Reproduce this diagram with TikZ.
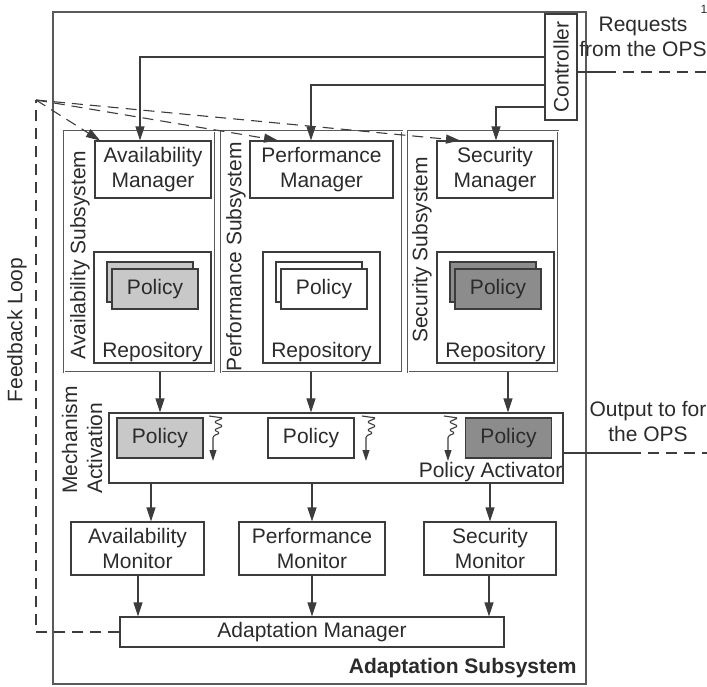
\documentclass[tikz,border=0pt]{standalone}
\usepackage{fontspec}
\setmainfont{Liberation Sans}
\usepackage{tikz}
\usetikzlibrary{arrows.meta}
\definecolor{txt}{HTML}{2B2B2B}
\definecolor{ln}{HTML}{3C3C3C}
\definecolor{lightpol}{HTML}{C8C8C8}
\definecolor{darkpol}{HTML}{8C8C8C}
\tikzset{box/.style={rectangle, draw=ln, line width=1.1pt, inner sep=2pt, align=center}}
\tikzset{pol/.style={box, minimum width=86, minimum height=40}}
\tikzset{subbox/.style={rectangle, draw=ln!85, double=white, double distance=1pt, line width=0.9pt}}
\tikzset{arr/.style={draw=ln, line width=1.1pt, -{Triangle[length=14pt,width=9pt]}}}
\tikzset{smallarr/.style={draw=ln, line width=1.1pt, rounded corners=1.5pt, -{Triangle[length=11pt,width=7pt]}}}
\tikzset{fbline/.style={draw=ln, line width=1.1pt, dash pattern=on 11pt off 7pt}}
\tikzset{fbarr/.style={arr, dash pattern=on 11pt off 7pt}}

\begin{document}
\begin{tikzpicture}[x=1pt,y=-1pt,every node/.style={font=\fontsize{21}{25}\selectfont, text=txt}]
  \useasboundingbox (0,0) rectangle (707,686);
  \clip (0,0) rectangle (707,686);

  \node[box, line width=1.6pt, draw=ln!85, minimum width=533, minimum height=672] (adapt) at (319.5,348) {};
  \node[font=\bfseries\fontsize{21}{25}\selectfont, anchor=south east] (adaptlab) at (580,681) {Adaptation Subsystem};

  \node[box, minimum width=32, minimum height=106, inner sep=0pt] (ctrl) at (561,67) {\rotatebox{90}{Controller}};

  \foreach \n/\x/\w/\lx/\ly/\lab in {
    av/139.5/151/80/255/Availability Subsystem,
    pf/311.5/181/236/257/Performance Subsystem,
    sc/483/150/422/250/Security Subsystem%
  } {
    \node[subbox, minimum width=\w, minimum height=241] (\n-sub) at (\x,251.5) {};
    \node[rotate=90] (\n-sublab) at (\lx,\ly) {\lab};
  }

  \foreach \n/\x/\w/\lab in {
    av/153/116/{Availability\\Manager},
    pf/321.5/143/{Performance\\Manager},
    sc/495/116/{Security\\Manager}%
  } {
    \node[box, minimum width=\w, minimum height=57] (\n-man) at (\x,169.5) {\lab};
  }

  \foreach \n/\x/\c in {
    av/152.5/lightpol,
    pf/321.5/white,
    sc/495.5/darkpol%
  } {
    \node[box, minimum width=117, minimum height=111] (\n-rep) at (\x,307.5) {};
    \node[anchor=south, inner sep=1pt] (\n-replab) at (\n-rep.south) {Repository};
    \node[pol, fill=\c] (\n-back) at (\x-2.5,282) {};
    \node[pol, fill=\c] (\n-pol) at (\x+2.5,289) {Policy};
  }

  \node[box, minimum width=454, minimum height=70] (mech) at (336,448) {};
  \node[rotate=90, align=left] (mechlab) at (82,440) {Mechanism\\Activation};
  \node[pol, fill=lightpol] (av-act) at (160,438) {Policy};
  \node[pol, fill=white] (pf-act) at (311,438) {Policy};
  \node[pol, fill=darkpol] (sc-act) at (508.5,438) {Policy};
  \node[anchor=south east, inner sep=1pt] (actlab) at (mech.south east) {Policy Activator};
  \foreach \x in {213,366,448} {
    \draw[smallarr] (\x-4,416) -- (\x+10,418) -- (\x+1,422) -- (\x+10,426) -- (\x+1,430) -- (\x+7,433) -- (\x,436) -- (\x,461);
  }

  \foreach \n/\x/\w/\lab in {
    av/137.5/133/{Availability\\Monitor},
    pf/312/146/{Performance\\Monitor},
    sc/490/132/{Security\\Monitor}%
  } {
    \node[box, minimum width=\w, minimum height=53] (\n-mon) at (\x,548.5) {\lab};
  }
  \node[box, minimum width=384, minimum height=30] (am) at (312,632) {Adaptation Manager};

  \foreach \y/\m/\x in {57/av/140, 85/pf/311, 107/sc/496} {
    \draw[arr] (ctrl.west |- 0,\y) -| (\m-man.north -| \x,0);
  }
  \foreach \n/\x in {av/160, pf/311, sc/508} {
    \draw[arr] (\n-sub.south -| \x,0) -- (mech.north -| \x,0);
  }
  \foreach \n/\x in {av/151, pf/312, sc/490} {
    \draw[arr] (mech.south -| \x,0) -- (\n-mon.north -| \x,0);
  }
  \foreach \n/\x in {av/138, pf/312, sc/489} {
    \draw[arr] (\n-mon.south -| \x,0) -- (am.north -| \x,0);
  }

  \coordinate (fb) at (36,100);
  \draw[fbline] (am.west) -| (fb);
  \foreach \n/\x in {av/100, pf/278, sc/460} {
    \draw[fbarr] (fb) -- (\n-man.north -| \x,0);
  }
  \node[rotate=90] (fblab) at (17,330) {Feedback Loop};

  \coordinate (reqa) at (605,72);
  \coordinate (reqb) at (707,72);
  \draw[draw=ln, line width=1.1pt] (ctrl.east |- reqa) -- (reqa);
  \draw[fbline] (reqa) -- (reqb);
  \node[align=center] (reqlab) at (643,37) {Requests\\from the OPS};
  \node[font=\fontsize{12}{14}\selectfont] (note) at (704,9) {1};

  \coordinate (outa) at (630,453);
  \coordinate (outb) at (707,453);
  \draw[draw=ln, line width=1.1pt] (mech.east |- outa) -- (outa);
  \draw[fbline] (outa) -- (outb);
  \node[align=center] (outlab) at (648,421) {Output to for\\the OPS};
\end{tikzpicture}
\end{document}
